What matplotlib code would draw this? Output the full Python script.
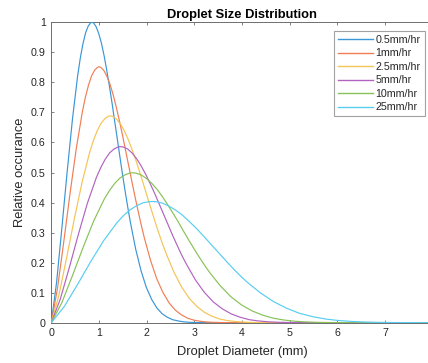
import matplotlib
matplotlib.use("Agg")
import matplotlib.pyplot as plt

plt.rcParams['font.family'] = ['Liberation Sans', 'DejaVu Sans']

# Rain rates shown in the legend
rain_rates = ["0.5mm/hr", "1mm/hr", "2.5mm/hr", "5mm/hr", "10mm/hr", "25mm/hr"]
colors = ["#3A96D6", "#F07E55", "#F3C456", "#B263C0", "#88C257", "#58CDF2"]

# Droplet diameter (mm) and relative occurrence for each rain rate
d_05 = [0, 0.111, 0.221, 0.332, 0.443, 0.553, 0.609, 0.664, 0.719, 0.775, 0.830, 0.852, 0.886, 0.941,
        0.996, 1.052, 1.107, 1.162, 1.218, 1.273, 1.328, 1.384, 1.439, 1.494, 1.550, 1.605, 1.660,
        1.771, 1.882, 1.992, 2.103, 2.214, 2.324, 2.435, 2.546, 2.657, 2.767, 2.878, 3.099, 3.321, 8.0]
r_05 = [0, 0.135, 0.315, 0.502, 0.677, 0.823, 0.882, 0.929, 0.965, 0.988, 0.999, 1.000, 0.998, 0.985,
        0.962, 0.930, 0.889, 0.841, 0.788, 0.732, 0.672, 0.612, 0.552, 0.493, 0.436, 0.383, 0.333,
        0.244, 0.173, 0.118, 0.078, 0.049, 0.030, 0.018, 0.010, 0.006, 0.003, 0.0015, 0.0003, 0.0001, 0]

d_1 = [0, 0.13, 0.26, 0.39, 0.52, 0.65, 0.715, 0.78, 0.845, 0.91, 0.975, 1.001, 1.04, 1.105,
       1.17, 1.235, 1.3, 1.365, 1.43, 1.495, 1.56, 1.625, 1.69, 1.755, 1.82, 1.885, 1.95,
       2.08, 2.21, 2.34, 2.47, 2.6, 2.73, 2.86, 2.99, 3.12, 3.25, 3.38, 3.64, 3.9, 8.0]
r_1 = [0, 0.115, 0.268, 0.427, 0.576, 0.701, 0.751, 0.791, 0.822, 0.841, 0.851, 0.852, 0.850, 0.839,
       0.819, 0.792, 0.757, 0.716, 0.671, 0.623, 0.572, 0.521, 0.470, 0.420, 0.372, 0.326, 0.283,
       0.208, 0.147, 0.101, 0.066, 0.042, 0.026, 0.015, 0.0086, 0.0048, 0.0025, 0.0013, 0.0003, 0.0001, 0]

d_25 = [0, 0.161, 0.322, 0.482, 0.643, 0.804, 0.884, 0.965, 1.045, 1.126, 1.206, 1.238, 1.286, 1.367,
        1.447, 1.528, 1.608, 1.688, 1.769, 1.849, 1.929, 2.010, 2.090, 2.171, 2.251, 2.331, 2.412,
        2.573, 2.733, 2.894, 3.055, 3.216, 3.377, 3.537, 3.698, 3.859, 4.020, 4.181, 4.502, 4.824, 8.0]
r_25 = [0, 0.093, 0.217, 0.345, 0.466, 0.567, 0.607, 0.640, 0.664, 0.680, 0.688, 0.688, 0.687, 0.678,
        0.662, 0.640, 0.612, 0.579, 0.543, 0.504, 0.463, 0.421, 0.380, 0.339, 0.300, 0.263, 0.229,
        0.168, 0.119, 0.081, 0.054, 0.034, 0.021, 0.012, 0.0070, 0.0039, 0.0020, 0.0010, 0.0002, 0, 0]

d_5 = [0, 0.189, 0.378, 0.567, 0.755, 0.944, 1.039, 1.133, 1.227, 1.322, 1.416, 1.454, 1.511, 1.605,
       1.700, 1.794, 1.888, 1.983, 2.077, 2.172, 2.266, 2.361, 2.455, 2.549, 2.644, 2.738, 2.833,
       3.021, 3.210, 3.399, 3.588, 3.777, 3.966, 4.154, 4.343, 4.532, 4.721, 4.910, 5.288, 5.665, 8.0]
r_5 = [0, 0.079, 0.184, 0.294, 0.397, 0.483, 0.517, 0.545, 0.566, 0.579, 0.586, 0.586, 0.585, 0.578,
       0.564, 0.545, 0.521, 0.493, 0.462, 0.429, 0.394, 0.359, 0.324, 0.289, 0.256, 0.224, 0.195,
       0.143, 0.101, 0.069, 0.046, 0.029, 0.018, 0.010, 0.0059, 0.0033, 0.0017, 0.0009, 0.0002, 0.0001, 0]

d_10 = [0, 0.222, 0.444, 0.665, 0.887, 1.109, 1.220, 1.331, 1.442, 1.553, 1.663, 1.708, 1.774, 1.885,
        1.996, 2.107, 2.218, 2.329, 2.440, 2.551, 2.661, 2.772, 2.883, 2.994, 3.105, 3.216, 3.327,
        3.549, 3.770, 3.992, 4.214, 4.436, 4.658, 4.879, 5.101, 5.323, 5.545, 5.767, 6.210, 6.654, 8.0]
r_10 = [0, 0.067, 0.157, 0.250, 0.338, 0.411, 0.440, 0.464, 0.482, 0.493, 0.499, 0.499, 0.498, 0.492,
        0.480, 0.464, 0.444, 0.420, 0.393, 0.365, 0.336, 0.305, 0.275, 0.246, 0.218, 0.191, 0.166,
        0.122, 0.086, 0.059, 0.039, 0.025, 0.015, 0.0089, 0.0050, 0.0028, 0.0014, 0.0007, 0.0001, 0, 0]

d_25mm = [0, 0.274, 0.549, 0.823, 1.097, 1.372, 1.509, 1.646, 1.783, 1.920, 2.057, 2.112, 2.195, 2.332,
          2.469, 2.606, 2.743, 2.880, 3.018, 3.155, 3.292, 3.429, 3.566, 3.703, 3.840, 3.978, 4.115,
          4.389, 4.663, 4.938, 5.212, 5.486, 5.761, 6.035, 6.309, 6.584, 6.858, 7.132, 7.681, 8.0]
r_25mm = [0, 0.0545, 0.127, 0.2025, 0.273, 0.332, 0.356, 0.375, 0.389, 0.399, 0.403, 0.4035, 0.403, 0.398,
          0.388, 0.375, 0.359, 0.339, 0.318, 0.295, 0.271, 0.247, 0.223, 0.199, 0.176, 0.154, 0.134,
          0.099, 0.070, 0.048, 0.031, 0.020, 0.012, 0.0072, 0.0041, 0.0023, 0.0012, 0.0006, 0.0001, 0]

diameters = [d_05, d_1, d_25, d_5, d_10, d_25mm]
occurrence = [r_05, r_1, r_25, r_5, r_10, r_25mm]

x_ticks = [0, 1, 2, 3, 4, 5, 6, 7]
y_ticks = [0, 0.1, 0.2, 0.3, 0.4, 0.5, 0.6, 0.7, 0.8, 0.9, 1]
y_tick_labels = ["0", "0.1", "0.2", "0.3", "0.4", "0.5", "0.6", "0.7", "0.8", "0.9", "1"]

text_color = "#262626"
axis_color = "#6e6e6e"

fig = plt.figure(figsize=(4.28, 3.63), dpi=100)
ax = fig.add_axes([0.1199, 0.1110, 0.8911, 0.8275])

for d, r, c, lab in zip(diameters, occurrence, colors, rain_rates):
    ax.plot(d, r, color=c, lw=0.85, label=lab, zorder=3, solid_joinstyle='round')

ax.set_xlim(0, 8)
ax.set_ylim(0, 1)
ax.set_xticks(x_ticks)
ax.set_yticks(y_ticks)
ax.set_yticklabels(y_tick_labels)

for s in ax.spines.values():
    s.set_color(axis_color)
    s.set_linewidth(0.7)
ax.tick_params(direction='in', length=2.5, width=0.6, colors=axis_color,
               labelcolor=text_color, labelsize=7.7, top=True, right=True)
ax.tick_params(axis='y', pad=4)
ax.tick_params(axis='x', pad=4)

ax.set_title("Droplet Size Distribution", fontsize=9.3, fontweight='bold',
             color='black', pad=3.2)
ax.set_xlabel("Droplet Diameter (mm)", fontsize=9.3, color=text_color)
ax.set_ylabel("Relative occurance", fontsize=9.3, color=text_color)
ax.xaxis.set_label_coords(0.5, -0.0965)
ax.xaxis.label.set_va('center')
ax.yaxis.set_label_coords(-0.082, 0.5)
ax.yaxis.label.set_va('center')

leg = ax.legend(loc='upper left', bbox_to_anchor=(334 / 428, 1 - 31 / 363),
                bbox_transform=fig.transFigure, fontsize=7.7, frameon=True,
                fancybox=False, handlelength=3.3, handletextpad=0.25,
                labelspacing=0.33, borderpad=0.35, borderaxespad=0)
leg.get_frame().set_edgecolor('#8a8a8a')
leg.get_frame().set_linewidth(0.8)
for t in leg.get_texts():
    t.set_color(text_color)
for h in leg.get_lines():
    h.set_linewidth(1.0)

fig.savefig("out.png", dpi=100)
